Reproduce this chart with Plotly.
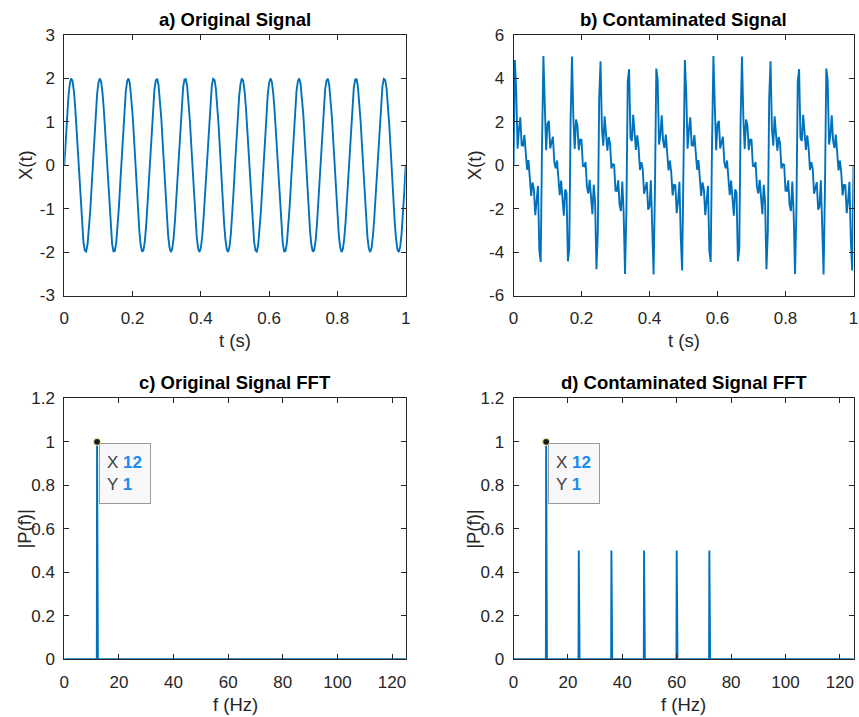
import numpy as np
import plotly.graph_objects as go

# Sampling setup
FS = 250          # Hz
DURATION = 1.0    # s shown in the time panels
DF = 0.1          # spectrum bin spacing, Hz

# Spectral content (single-sided bin magnitudes |P(f)|)
clean_freqs = [12]
clean_mags = [1.0]
noisy_freqs = [12, 24, 36, 48, 60, 72]
noisy_mags = [1.0, 0.5, 0.5, 0.5, 0.5, 0.5]

# Data-tip location shown on both spectra
tip_x = 12
tip_y = 1

panel_titles = ["a) Original Signal", "b) Contaminated Signal",
                "c) Original Signal FFT", "d) Contaminated Signal FFT"]

LINE_BLUE = "#0072BD"
AXIS_COL = "#262626"
FONT = "Liberation Sans, Arial, Helvetica, sans-serif"


def synth(freqs, mags, t):
    # each bin of magnitude m corresponds to a sine of amplitude 2m
    x = np.zeros_like(t)
    for f, m in zip(freqs, mags):
        x += 2 * m * np.sin(2 * np.pi * f * t)
    return x


def spectrum(freqs, mags):
    n = int(round((FS / 2) / DF))
    f = np.arange(0, n + 1) * DF
    p = np.zeros(f.size)
    for fr, m in zip(freqs, mags):
        p[int(round(fr / DF))] = m
    return f, p


t = np.arange(0, int(FS * DURATION) + 1) / FS
x_clean = synth(clean_freqs, clean_mags, t)
x_noisy = synth(noisy_freqs, noisy_mags, t)
f_c, p_c = spectrum(clean_freqs, clean_mags)
f_n, p_n = spectrum(noisy_freqs, noisy_mags)

W, H = 859, 717


def px(xp):
    return xp / W


def py(yp):
    return 1 - yp / H


# panel rectangles in pixels: (left, right, top, bottom)
rects = {
    1: (64.3, 405.7, 35.0, 295.5),
    2: (513.5, 853.5, 35.0, 295.5),
    3: (64.3, 405.7, 398.3, 659.3),
    4: (513.5, 853.5, 398.3, 659.3),
}

fig = go.Figure()

line = dict(color=LINE_BLUE, width=1.9)
fig.add_trace(go.Scatter(x=t, y=x_clean, mode="lines", line=line, xaxis="x", yaxis="y"))
fig.add_trace(go.Scatter(x=t, y=x_noisy, mode="lines", line=line, xaxis="x2", yaxis="y2"))
fig.add_trace(go.Scatter(x=f_c, y=p_c, mode="lines", line=line, xaxis="x3", yaxis="y3"))
fig.add_trace(go.Scatter(x=f_n, y=p_n, mode="lines", line=line, xaxis="x4", yaxis="y4"))

# data-tip markers
for xa, ya in (("x3", "y3"), ("x4", "y4")):
    fig.add_trace(go.Scatter(x=[tip_x], y=[tip_y], mode="markers", xaxis=xa, yaxis=ya,
                             marker=dict(size=7, color="#1a1a1a",
                                         line=dict(color="#e9e2a6", width=1.2))))

common = dict(showgrid=False, zeroline=False, showline=True, linecolor=AXIS_COL,
              linewidth=1, mirror="ticks", ticks="inside", ticklen=5,
              tickcolor=AXIS_COL, tickwidth=1, automargin=False,
              tickfont=dict(family=FONT, size=17, color=AXIS_COL))

t_ticks = [0, 0.2, 0.4, 0.6, 0.8, 1]
t_text = ["0", "0.2", "0.4", "0.6", "0.8", "1"]
f_ticks = [0, 20, 40, 60, 80, 100, 120]
p_ticks = [0, 0.2, 0.4, 0.6, 0.8, 1, 1.2]
p_text = ["0", "0.2", "0.4", "0.6", "0.8", "1", "1.2"]
ya_ticks = [-3, -2, -1, 0, 1, 2, 3]
yb_ticks = [-6, -4, -2, 0, 2, 4, 6]

layout_axes = {}
for i in range(1, 5):
    l, r, tp, b = rects[i]
    sx = "" if i == 1 else str(i)
    xd = dict(common, domain=[px(l), px(r)], anchor="y" + sx, ticklabelstandoff=7)
    yd = dict(common, domain=[py(b), py(tp)], anchor="x" + sx, ticklabelstandoff=5)
    if i in (1, 2):
        xd.update(range=[0, 1], tickvals=t_ticks, ticktext=t_text)
    else:
        xd.update(range=[0, 125], tickvals=f_ticks, ticktext=[str(v) for v in f_ticks])
        yd.update(range=[0, 1.2], tickvals=p_ticks, ticktext=p_text)
    if i == 1:
        yd.update(range=[-3, 3], tickvals=ya_ticks, ticktext=[str(v) for v in ya_ticks])
    if i == 2:
        yd.update(range=[-6, 6], tickvals=yb_ticks, ticktext=[str(v) for v in yb_ticks])
    layout_axes["xaxis" + sx] = xd
    layout_axes["yaxis" + sx] = yd

annotations = []
for i in range(1, 5):
    l, r, tp, b = rects[i]
    annotations.append(dict(text="<b>%s</b>" % panel_titles[i - 1], xref="paper", yref="paper",
                            x=px((l + r) / 2), y=py(tp - 15.5), xanchor="center", yanchor="middle",
                            showarrow=False, font=dict(family=FONT, size=18.5, color="#000000")))
    xlabel = "t (s)" if i in (1, 2) else "f (Hz)"
    ylabel = "X(t)" if i in (1, 2) else "|P(f)|"
    annotations.append(dict(text=xlabel, xref="paper", yref="paper",
                            x=px((l + r) / 2), y=py(b + 45), xanchor="center", yanchor="middle",
                            showarrow=False, font=dict(family=FONT, size=18.5, color=AXIS_COL)))
    annotations.append(dict(text=ylabel, xref="paper", yref="paper", textangle=-90,
                            x=px(l - 39.5), y=py((tp + b) / 2), xanchor="center", yanchor="middle",
                            showarrow=False, font=dict(family=FONT, size=18.5, color=AXIS_COL)))

# data-tip boxes
VAL_BLUE = "#1a8cf0"
tip_text = ("X <span style='color:%s'><b>%g</b></span><br>"
            "Y <span style='color:%s'><b>%g</b></span>") % (VAL_BLUE, tip_x, VAL_BLUE, tip_y)
for xa, ya in (("x3", "y3"), ("x4", "y4")):
    annotations.append(dict(text=tip_text, xref=xa, yref=ya, x=tip_x, y=tip_y,
                            xanchor="left", yanchor="top", xshift=2, yshift=-1,
                            showarrow=False, align="left", width=36, height=45,
                            borderpad=7, bgcolor="#f8f8fb", bordercolor="#9a9a9a",
                            borderwidth=1,
                            font=dict(family=FONT, size=17, color="#404040")))

fig.update_layout(
    width=W, height=H, margin=dict(l=0, r=0, t=0, b=0, autoexpand=False),
    paper_bgcolor="white", plot_bgcolor="white", showlegend=False,
    annotations=annotations, **layout_axes,
)

fig.write_html("out.html")
